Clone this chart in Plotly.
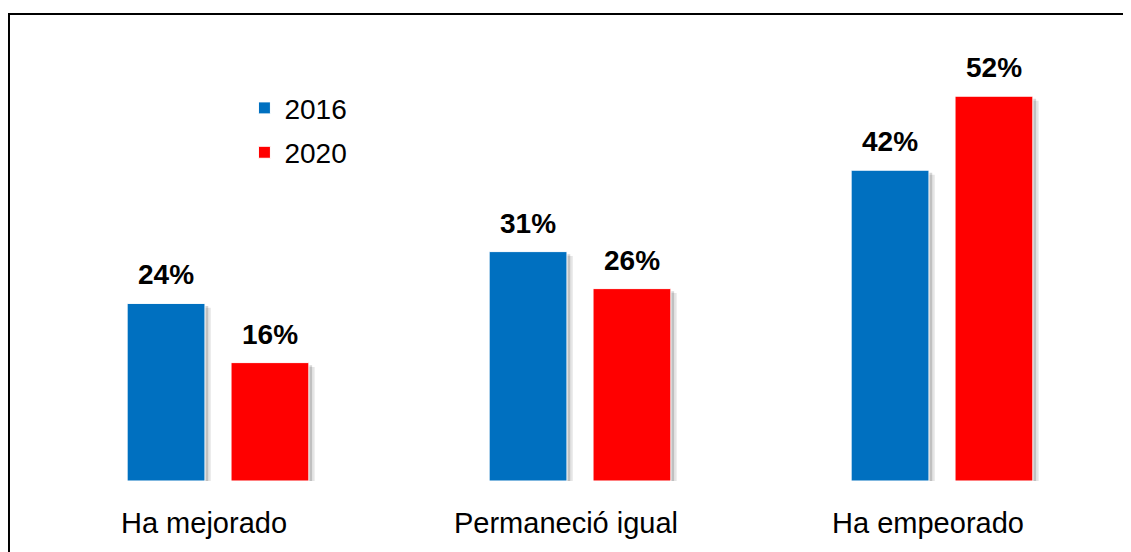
import plotly.graph_objects as go

categories = ["Ha mejorado", "Permaneció igual", "Ha empeorado"]
series_names = ["2016", "2020"]
values_2016 = [24, 31, 42]
values_2020 = [16, 26, 52]
labels_2016 = ["24%", "31%", "42%"]
labels_2020 = ["16%", "26%", "52%"]

colors = ["#0070C0", "#FF0000"]
bar_w = 0.215
offsets = [-0.251, 0.036]

fig = go.Figure()
series = [values_2016, values_2020]
labels = [labels_2016, labels_2020]

# soft shadows (two layers)
for dx, dy, alpha in [(0.016, 0.6, 0.10), (0.009, 0.35, 0.16)]:
    for vals, off in zip(series, offsets):
        fig.add_trace(go.Bar(
            x=categories, y=vals, base=[-dy] * len(vals),
            width=bar_w, offset=off + dx,
            marker=dict(color=f"rgba(0,0,0,{alpha})", line=dict(width=0)),
            showlegend=False, hoverinfo="skip"))

for name, vals, off, col in zip(series_names, series, offsets, colors):
    fig.add_trace(go.Bar(
        x=categories, y=vals, name=name, width=bar_w, offset=off,
        legendgroup=name,
        marker=dict(color=col, line=dict(color="white", width=1))))

annotations = []
for vals, labs, off in zip(series, labels, offsets):
    for i, (v, t) in enumerate(zip(vals, labs)):
        annotations.append(dict(
            x=i + off + bar_w / 2, y=v, xref="x", yref="y", text=t,
            showarrow=False, yanchor="bottom", yshift=11,
            font=dict(family="Arial, Liberation Sans", size=28, color="black", weight="bold")))

fig.update_layout(
    width=1131, height=552,
    margin=dict(l=29, r=16, t=29, b=79),
    paper_bgcolor="white", plot_bgcolor="white",
    barmode="overlay",
    font=dict(family="Arial, Liberation Sans", color="black"),
    annotations=annotations,
    legend=dict(x=0.191, y=0.896, xanchor="left", yanchor="top",
                font=dict(size=28), itemwidth=30, tracegroupgap=5,
                bgcolor="rgba(0,0,0,0)"),
    xaxis=dict(showgrid=False, showline=False, ticks="", zeroline=False,
               tickfont=dict(size=29), ticklabelstandoff=22, ticklabelshift=-14),
    yaxis=dict(range=[0, 60], visible=False),
    shapes=[dict(type="rect", xref="paper", yref="paper",
                 x0=-0.0258, x1=1.05, y0=-0.4, y1=1.0518,
                 line=dict(color="black", width=2), fillcolor="rgba(0,0,0,0)")],
)

fig.write_html("out.html")
